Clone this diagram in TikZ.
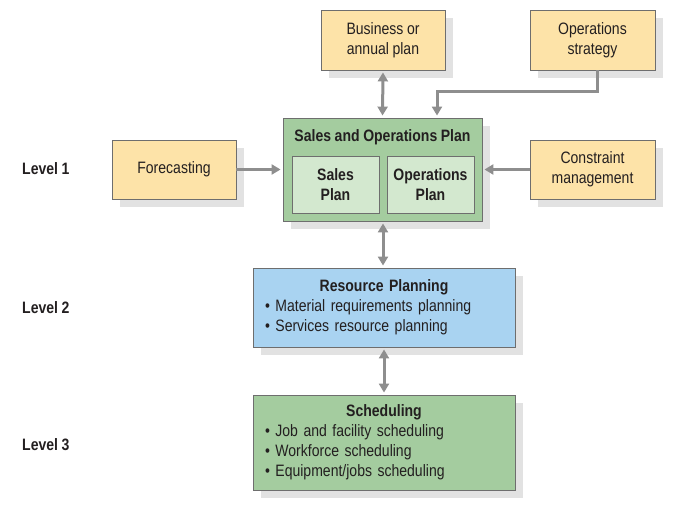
\documentclass[tikz,border=0pt]{standalone}
\usepackage{fontspec}
\setmainfont{Liberation Sans}[FakeStretch=0.85]
\usetikzlibrary{arrows.meta,shadows}
\definecolor{boxyellow}{HTML}{FDE3A8}
\definecolor{boxgreen}{HTML}{A4CC9F}
\definecolor{innergreen}{HTML}{D3E8CF}
\definecolor{boxblue}{HTML}{A9D3F1}
\definecolor{shadowgray}{HTML}{E2E2E2}
\definecolor{bordergray}{HTML}{6E6E6E}
\definecolor{arrowgray}{HTML}{8E8E8E}
\definecolor{txt}{HTML}{231F20}
\newcommand{\dfont}{\fontsize{16.5}{20}\selectfont\spaceskip=3.6pt plus 1pt minus 0.5pt\relax}
\tikzset{
  base/.style={draw=bordergray, line width=0.9pt, text=txt, align=center, inner sep=0pt,
    font=\dfont},
  shadowed/.style={drop shadow={shadow xshift=8pt, shadow yshift=-8pt, fill=shadowgray, opacity=1}},
  ybox/.style={base, shadowed, fill=boxyellow},
  gbox/.style={base, shadowed, fill=boxgreen},
  ibox/.style={base, fill=innergreen, font=\dfont\bfseries},
  bbox/.style={base, shadowed, fill=boxblue},
  lvl/.style={anchor=west, text=txt, font=\dfont\bfseries, inner sep=0pt},
  conn/.style={draw=arrowgray, line width=3pt},
  tip/.tip={Triangle[length=9pt,width=10pt]},
}
\begin{document}
\begin{tikzpicture}[x=1pt,y=-1pt]
\useasboundingbox (0,0) rectangle (683,514);

\node[ybox, minimum width=124pt, minimum height=60pt] (biz) at (383,40) {Business or\\annual plan};
\node[ybox, minimum width=125pt, minimum height=60pt] (ops) at (592.5,40) {Operations\\strategy};
\node[ybox, minimum width=124pt, minimum height=59pt] (fc) at (174,169.5) {Forecasting};
\node[ybox, minimum width=125pt, minimum height=59pt] (cm) at (592.5,169.5) {Constraint\\management};

\node[gbox, minimum width=199pt, minimum height=103pt] (sop) at (382.5,169.5) {};
\node[text=txt, font=\dfont\bfseries, inner sep=0pt] (soptitle) at (382.5,137.5) {Sales and Operations Plan};
\node[ibox, minimum width=87pt, minimum height=57pt] (sp) at (335.5,184.5) {Sales\\Plan};
\node[ibox, minimum width=87pt, minimum height=57pt] (op) at (430.5,184.5) {Operations\\Plan};

\node[bbox, minimum width=262pt, minimum height=79pt, text width=238pt, align=left] (rp) at (384,307.5)
  {{\centering\bfseries Resource Planning\par}\raggedright
   • Material requirements planning\par
   • Services resource planning};
\node[gbox, minimum width=262pt, minimum height=95pt, text width=238pt, align=left] (sch) at (384,442.5)
  {{\centering\bfseries Scheduling\par}\raggedright
   • Job and facility scheduling\par
   • Workforce scheduling\par
   • Equipment/jobs scheduling};

\node[lvl] (l1) at (22,168.5) {Level 1};
\node[lvl] (l2) at (22,307.5) {Level 2};
\node[lvl] (l3) at (22,444.5) {Level 3};

\draw[conn, tip-tip, shorten <=2pt, shorten >=2pt] (biz.south) -- (sop.north);
\draw[conn, -tip, shorten >=2pt] ([xshift=4.5pt]ops.south) -- ++(0,21) -| ([xshift=54.5pt]sop.north);
\draw[conn, -tip, shorten >=2pt] (fc.east) -- (sop.west);
\draw[conn, -tip, shorten >=2pt] (cm.west) -- (sop.east);
\draw[conn, tip-tip, shorten <=2pt, shorten >=2pt] ([xshift=0.5pt]sop.south) -- ([xshift=-1pt]rp.north);
\draw[conn, tip-tip, shorten <=2pt, shorten >=2pt] (rp.south) -- (sch.north);
\end{tikzpicture}
\end{document}
